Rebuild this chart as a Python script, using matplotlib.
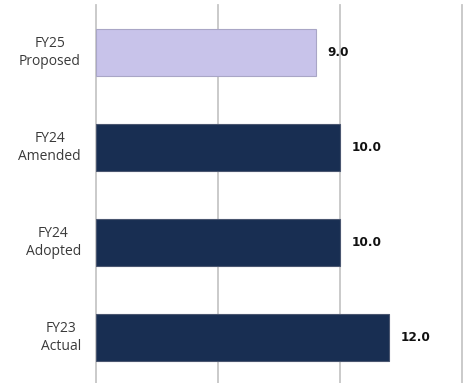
import numpy as np
import matplotlib as mpl
mpl.use('Agg')
import matplotlib.pyplot as plt

# dados do grafico (de cima para baixo)
categorias = ['FY25\nProposed', 'FY24\nAmended', 'FY24\nAdopted', 'FY23\nActual']
valores = [9.0, 10.0, 10.0, 12.0]
cores = ['#C8C3EA', '#182E52', '#182E52', '#182E52']
bordas = ['#A9A6C6', '#4A5670', '#4A5670', '#4A5670']
ticks_x = [0, 5, 10, 15]

fig = plt.figure(figsize=(4.66, 3.83), dpi=100)
ax = fig.add_axes([96 / 466, -2 / 383, 366.5 / 466, 380 / 383])

pos = np.arange(len(categorias))
ax.barh(pos, valores, height=0.5, color=cores, edgecolor=bordas, linewidth=0.8, zorder=3)

ax.set_ylim(len(categorias) - 0.5, -0.5)
ax.set_xlim(0, 15)
ax.set_xticks(ticks_x)
ax.set_yticks([])
ax.tick_params(axis='x', length=0, labelbottom=False)
for s in ax.spines.values():
    s.set_visible(False)

# linhas de grade verticais
for t in ticks_x:
    ax.axvline(t, color='#C6C6C6', linewidth=1.3, zorder=1, clip_on=False)

# rotulos das categorias
for i, cat in enumerate(categorias):
    ax.text(-0.62, i, cat, ha='right', va='center', multialignment='center',
            fontsize=10, family='Open Sans', color='#3A3A3A', linespacing=1.3)

# rotulos dos valores
for i, v in enumerate(valores):
    ax.text(v + 0.48, i, f'{v:.1f}', ha='left', va='center',
            fontsize=8.7, fontweight='bold', color='#111111', zorder=4)

fig.savefig('out.png', dpi=100)
plt.close()
